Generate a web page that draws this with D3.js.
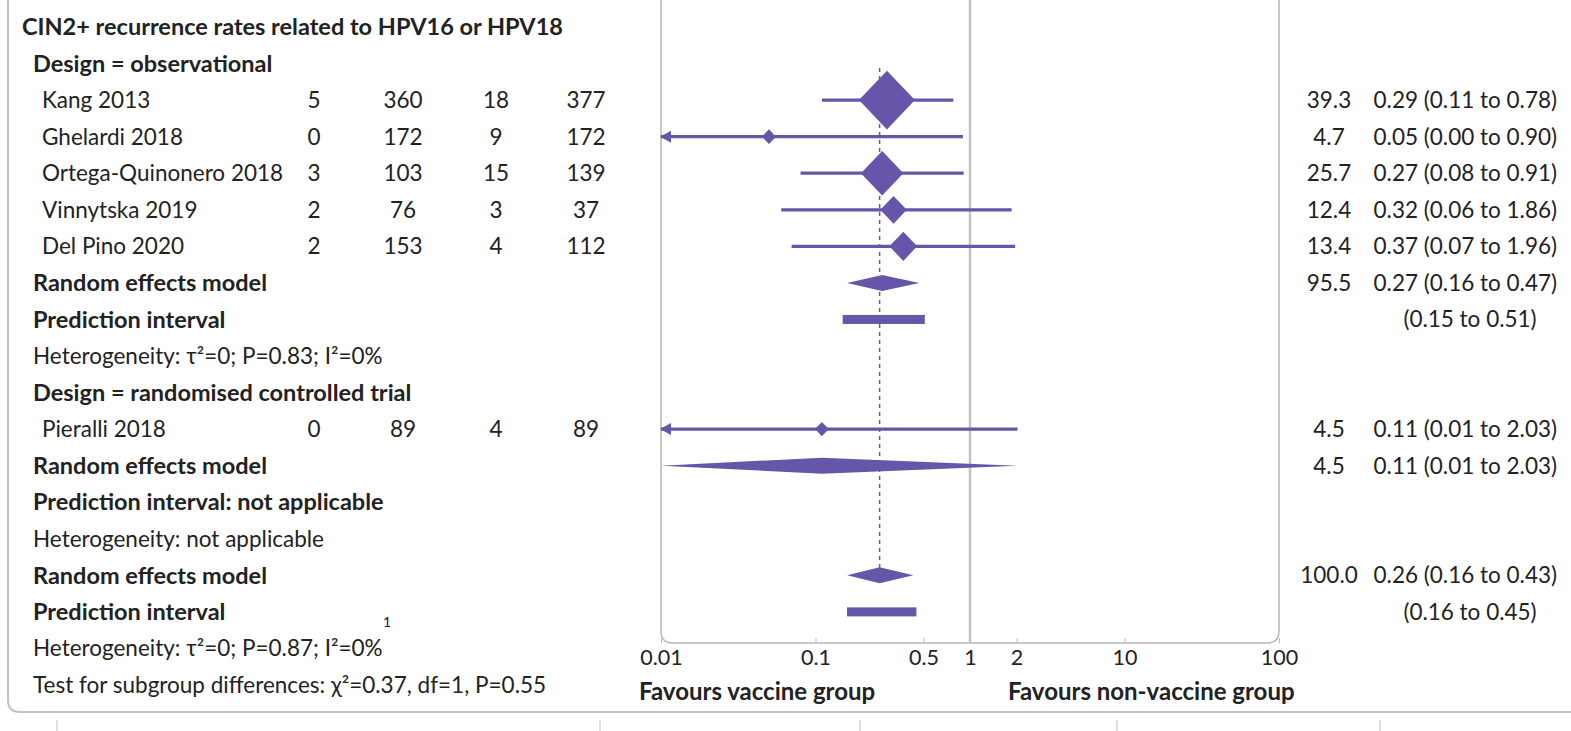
<!DOCTYPE html>
<html>
<head>
<meta charset="utf-8">
<script src="https://cdn.jsdelivr.net/npm/d3@7"></script>
<style>
  body { margin: 0; background: #fff; }
  svg { font-family: Lato, "Open Sans", sans-serif; }
  .lbl { font-size: 22.5px; fill: #222; }
  .bold { font-weight: bold; font-size: 23.5px; }
  .fav { font-weight: bold; font-size: 24px; fill: #222; }
  .axis text { font-size: 21.5px; fill: #222; font-family: Lato, sans-serif; }
  .axis line { stroke: #bbb; }
</style>
</head>
<body>
<script>
// SET UP DIMENSIONS
var w = 1571,
    h = 731;

var purple = '#6755aa';

// row labels down the left side
var rowLabels = [
  {text: 'CIN2+ recurrence rates related to HPV16 or HPV18', bold: true, indent: 22},
  {text: 'Design = observational', bold: true, indent: 33},
  {text: 'Kang 2013', bold: false, indent: 42},
  {text: 'Ghelardi 2018', bold: false, indent: 42},
  {text: 'Ortega-Quinonero 2018', bold: false, indent: 42},
  {text: 'Vinnytska 2019', bold: false, indent: 42},
  {text: 'Del Pino 2020', bold: false, indent: 42},
  {text: 'Random effects model', bold: true, indent: 33},
  {text: 'Prediction interval', bold: true, indent: 33},
  {text: 'Heterogeneity: τ²=0; P=0.83; I²=0%', bold: false, indent: 33},
  {text: 'Design = randomised controlled trial', bold: true, indent: 33},
  {text: 'Pieralli 2018', bold: false, indent: 42},
  {text: 'Random effects model', bold: true, indent: 33},
  {text: 'Prediction interval: not applicable', bold: true, indent: 33},
  {text: 'Heterogeneity: not applicable', bold: false, indent: 33},
  {text: 'Random effects model', bold: true, indent: 33},
  {text: 'Prediction interval', bold: true, indent: 33},
  {text: 'Heterogeneity: τ²=0; P=0.87; I²=0%', bold: false, indent: 33},
  {text: 'Test for subgroup differences: χ²=0.37, df=1, P=0.55', bold: false, indent: 33}
];

// studies
var studyRows = [2, 3, 4, 5, 6, 11];
var eventsVac = [5, 0, 3, 2, 2, 0];
var totalVac  = [360, 172, 103, 76, 153, 89];
var eventsCtl = [18, 9, 15, 3, 4, 4];
var totalCtl  = [377, 172, 139, 37, 112, 89];
var weights   = [39.3, 4.7, 25.7, 12.4, 13.4, 4.5];
var rr        = [0.29, 0.05, 0.27, 0.32, 0.37, 0.11];
var rrLow     = [0.11, 0.00, 0.08, 0.06, 0.07, 0.01];
var rrHigh    = [0.78, 0.90, 0.91, 1.86, 1.96, 2.03];

// pooled estimates
var pooledRows  = [7, 12, 15];
var pooledW     = [95.5, 4.5, 100.0];
var pooledRR    = [0.27, 0.11, 0.26];
var pooledLow   = [0.16, 0.01, 0.16];
var pooledHigh  = [0.47, 2.03, 0.43];

// prediction intervals
var predRows = [8, 16];
var predLow  = [0.15, 0.16];
var predHigh = [0.51, 0.45];

var xTicks = [0.01, 0.1, 0.5, 1, 2, 10, 100];

var f2 = d3.format('.2f');

var svg = d3.select('body').append('svg')
  .attr('width', w)
  .attr('height', h);

// SET UP SCALES
var xScale = d3.scaleLog()
  .domain([0.01, 100])
  .range([661, 1279])
  .clamp(true);

var yScale = d3.scaleLinear()
  .domain([0, 18])
  .range([27, 685]);

var sizeScale = d3.scalePow().exponent(0.65)
  .domain([0, 39.3])
  .range([0, 28]);

var boxBottom = 643;

// OUTER FRAME
svg.append('path')
  .attr('d', 'M8,0 V700 Q8,712 20,712 H' + w)
  .attr('fill', 'none')
  .attr('stroke', '#c2c2c2')
  .attr('stroke-width', 2);

svg.selectAll('.sep')
  .data([57, 600, 860, 1117, 1380])
  .enter().append('line')
    .attr('x1', function(d) { return d; })
    .attr('x2', function(d) { return d; })
    .attr('y1', 720)
    .attr('y2', h)
    .attr('stroke', '#d4d4d4')
    .attr('stroke-width', 1.5);

// PLOT BOX
var x0 = xScale.range()[0], x1 = xScale.range()[1], r = 12;
svg.append('path')
  .attr('d', 'M' + x0 + ',0 V' + (boxBottom - r) + ' Q' + x0 + ',' + boxBottom + ' ' + (x0 + r) + ',' + boxBottom +
             ' H' + (x1 - r) + ' Q' + x1 + ',' + boxBottom + ' ' + x1 + ',' + (boxBottom - r) + ' V0')
  .attr('fill', 'none')
  .attr('stroke', '#b8b8b8')
  .attr('stroke-width', 1.5);

// no effect line
svg.append('line')
  .attr('x1', xScale(1)).attr('x2', xScale(1))
  .attr('y1', 0).attr('y2', boxBottom)
  .attr('stroke', '#c2c2c2')
  .attr('stroke-width', 2.5);

// AXIS
var xAxis = d3.axisBottom(xScale)
  .tickValues(xTicks)
  .tickFormat(function(d) { return d; })
  .tickSize(-5)
  .tickPadding(7);

var axisG = svg.append('g')
  .attr('class', 'axis')
  .attr('transform', 'translate(0,' + boxBottom + ')')
  .call(xAxis);
axisG.select('.domain').remove();
axisG.selectAll('.tick').filter(function(d) { return d === 1; }).select('line').remove();

svg.append('text')
  .attr('class', 'fav')
  .attr('x', 639).attr('y', 692).attr('dy', '0.35em')
  .text('Favours vaccine group');
svg.append('text')
  .attr('class', 'fav')
  .attr('x', 1008).attr('y', 692).attr('dy', '0.35em')
  .text('Favours non-vaccine group');

// overall estimate dashed line
svg.append('line')
  .attr('x1', xScale(pooledRR[2])).attr('x2', xScale(pooledRR[2]))
  .attr('y1', 68).attr('y2', yScale(pooledRows[2]))
  .attr('stroke', purple)
  .attr('stroke-width', 1.5)
  .attr('stroke-dasharray', '4,4');

// LEFT LABELS
svg.selectAll('.rowlabel')
  .data(rowLabels)
  .enter().append('text')
    .attr('class', function(d) { return d.bold ? 'lbl bold' : 'lbl'; })
    .attr('x', function(d) { return d.indent; })
    .attr('y', function(d, i) { return yScale(i); })
    .attr('dy', '0.35em')
    .text(function(d) { return d.text; });

// stray tick digit
svg.append('text')
  .attr('class', 'lbl')
  .style('font-size', '14px')
  .attr('x', 387).attr('y', 627)
  .attr('text-anchor', 'middle')
  .text('1');

// COUNT COLUMNS
var countCols = [
  {vals: eventsVac, x: 314},
  {vals: totalVac, x: 403},
  {vals: eventsCtl, x: 496},
  {vals: totalCtl, x: 586}
];
countCols.forEach(function(col) {
  svg.selectAll(null)
    .data(col.vals)
    .enter().append('text')
      .attr('class', 'lbl')
      .attr('x', col.x)
      .attr('y', function(d, i) { return yScale(studyRows[i]); })
      .attr('dy', '0.35em')
      .attr('text-anchor', 'middle')
      .text(function(d) { return d; });
});

// WEIGHT AND CI COLUMNS
var allRows = studyRows.concat(pooledRows);
var allW = weights.concat(pooledW);
var allRR = rr.concat(pooledRR), allLo = rrLow.concat(pooledLow), allHi = rrHigh.concat(pooledHigh);

svg.selectAll('.wt')
  .data(allW)
  .enter().append('text')
    .attr('class', 'lbl')
    .attr('x', 1329)
    .attr('y', function(d, i) { return yScale(allRows[i]); })
    .attr('dy', '0.35em')
    .attr('text-anchor', 'middle')
    .text(function(d) { return d3.format('.1f')(d); });

svg.selectAll('.ci')
  .data(allRR)
  .enter().append('text')
    .attr('class', 'lbl')
    .attr('x', 1557)
    .attr('y', function(d, i) { return yScale(allRows[i]); })
    .attr('dy', '0.35em')
    .attr('text-anchor', 'end')
    .text(function(d, i) { return f2(d) + ' (' + f2(allLo[i]) + ' to ' + f2(allHi[i]) + ')'; });

svg.selectAll('.predtext')
  .data(predLow)
  .enter().append('text')
    .attr('class', 'lbl')
    .attr('x', 1470)
    .attr('y', function(d, i) { return yScale(predRows[i]); })
    .attr('dy', '0.35em')
    .attr('text-anchor', 'middle')
    .text(function(d, i) { return '(' + f2(d) + ' to ' + f2(predHigh[i]) + ')'; });

// STUDY CI LINES
var studyG = svg.append('g');
studyG.selectAll('.ciline')
  .data(rr)
  .enter().append('line')
    .attr('x1', function(d, i) { return xScale(Math.max(rrLow[i], 0.01)); })
    .attr('x2', function(d, i) { return xScale(rrHigh[i]); })
    .attr('y1', function(d, i) { return yScale(studyRows[i]); })
    .attr('y2', function(d, i) { return yScale(studyRows[i]); })
    .attr('stroke', purple)
    .attr('stroke-width', 3.2);

// arrows where the interval runs off the left edge
studyG.selectAll('.arrow')
  .data(rr.map(function(d, i) { return i; }).filter(function(i) { return rrLow[i] <= 0.01; }))
  .enter().append('path')
    .attr('d', function(i) {
      var x = xScale(0.01) - 1, y = yScale(studyRows[i]);
      return 'M' + x + ',' + y + ' L' + (x + 11) + ',' + (y - 6) + ' L' + (x + 11) + ',' + (y + 6) + 'Z';
    })
    .attr('fill', purple);

// study diamonds
studyG.selectAll('.marker')
  .data(rr)
  .enter().append('path')
    .attr('d', function(d, i) {
      var cx = xScale(d), cy = yScale(studyRows[i]), s = sizeScale(weights[i]), t = s * 1.05;
      return 'M' + (cx - s) + ',' + cy + ' L' + cx + ',' + (cy - t) + ' L' + (cx + s) + ',' + cy + ' L' + cx + ',' + (cy + t) + 'Z';
    })
    .attr('fill', purple);

// POOLED DIAMONDS
svg.selectAll('.pooled')
  .data(pooledRR)
  .enter().append('path')
    .attr('d', function(d, i) {
      var cy = yScale(pooledRows[i]);
      return 'M' + xScale(pooledLow[i]) + ',' + cy + ' L' + xScale(d) + ',' + (cy - 8) +
             ' L' + xScale(pooledHigh[i]) + ',' + cy + ' L' + xScale(d) + ',' + (cy + 8) + 'Z';
    })
    .attr('fill', purple);

// PREDICTION BARS
svg.selectAll('.pred')
  .data(predLow)
  .enter().append('rect')
    .attr('x', function(d) { return xScale(d); })
    .attr('y', function(d, i) { return yScale(predRows[i]) - 4.5; })
    .attr('width', function(d, i) { return xScale(predHigh[i]) - xScale(d); })
    .attr('height', 9)
    .attr('fill', purple);
</script>
</body>
</html>
